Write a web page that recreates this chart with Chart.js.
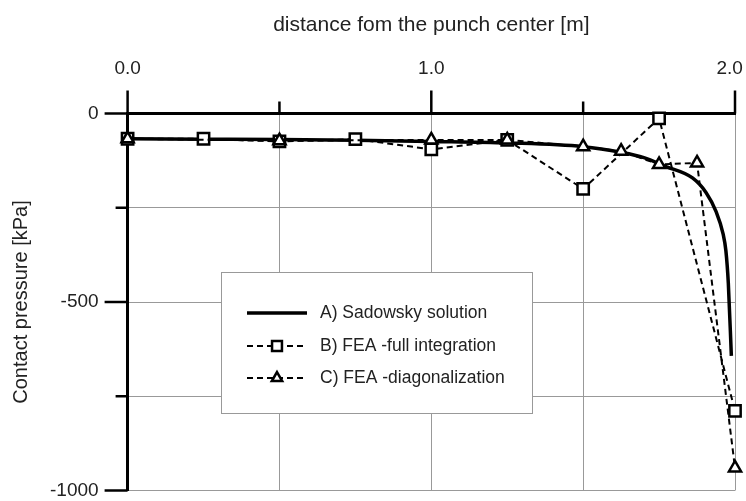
<!DOCTYPE html>
<html>
<head>
<meta charset="utf-8">
<script src="https://cdn.jsdelivr.net/npm/chart.js@4"></script>
<style>
  body { margin: 0; background: #fff; }
  #wrap { width: 746px; height: 501px; }
</style>
</head>
<body>
<div id="wrap"><canvas id="pressureChart"></canvas></div>
<script>
// A) Sadowsky solution (read off the curve)
const sadX = [0, 0.25, 0.5, 0.75, 1.0, 1.25, 1.5, 1.625, 1.7, 1.77, 1.86, 1.905, 1.937, 1.961, 1.97, 1.978, 1.988];
const sadY = [-67, -68, -69, -71, -74, -78, -88, -103, -117, -140, -171, -210, -259, -320, -364, -450, -643];

// B) FEA - full integration
const fullX = [0, 0.25, 0.5, 0.75, 1.0, 1.25, 1.5, 1.75, 2.0];
const fullY = [-67, -67, -74, -68, -95, -70, -200, -13, -789];

// C) FEA - diagonalization
const diagX = [0, 0.5, 1.0, 1.25, 1.5, 1.625, 1.75, 1.875, 2.0];
const diagY = [-67, -72, -70, -70, -88, -100, -135, -131, -940];

const legendLabels = ["A) Sadowsky solution", "B) FEA -full integration", "C) FEA -diagonalization"];
const xLabels = [0, 1, 2];        // labelled x ticks
const yLabels = [0, -500, -1000]; // labelled y ticks

const FONT = "'Liberation Sans', Arial, sans-serif";

function toPoints(xs, ys) {
  let pts = [];
  for (let i = 0; i < xs.length; i++) {
    pts.push({ x: xs[i], y: ys[i] });
  }
  return pts;
}

// tick marks: long ones on labelled values, short ones between
const tickMarks = {
  id: "tickMarks",
  afterDraw(chart) {
    const ctx = chart.ctx;
    const xs = chart.scales.x;
    const ys = chart.scales.y;
    const top = chart.chartArea.top;
    const left = chart.chartArea.left;
    ctx.save();
    ctx.strokeStyle = "#000";
    ctx.lineWidth = 2.5;
    ctx.lineCap = "butt";
    xs.ticks.forEach(t => {
      const px = xs.getPixelForValue(t.value);
      const len = xLabels.includes(t.value) ? 23 : 12;
      ctx.beginPath();
      ctx.moveTo(px, top);
      ctx.lineTo(px, top - len);
      ctx.stroke();
    });
    ys.ticks.forEach(t => {
      const py = ys.getPixelForValue(t.value);
      const len = yLabels.includes(t.value) ? 23 : 12;
      ctx.beginPath();
      ctx.moveTo(left, py);
      ctx.lineTo(left - len, py);
      ctx.stroke();
    });
    ctx.restore();
  }
};

// legend box inside the plot
const boxLegend = {
  id: "boxLegend",
  beforeDatasetsDraw(chart) {
    const ctx = chart.ctx;
    const bx = 221, by = 272, bw = 311, bh = 141;
    ctx.save();
    ctx.fillStyle = "#fff";
    ctx.fillRect(bx, by, bw, bh);
    ctx.strokeStyle = "#999";
    ctx.lineWidth = 1;
    ctx.strokeRect(bx + 0.5, by + 0.5, bw, bh);

    const rows = [313, 346, 378];
    chart.data.datasets.forEach((ds, i) => {
      const y = rows[i];
      ctx.strokeStyle = "#000";
      ctx.lineWidth = ds.borderWidth;
      ctx.setLineDash(ds.borderDash || []);
      ctx.beginPath();
      ctx.moveTo(247, y);
      ctx.lineTo(307, y);
      ctx.stroke();
      ctx.setLineDash([]);
      if (ds.pointStyle) {
        ctx.fillStyle = "#fff";
        ctx.lineWidth = ds.pointBorderWidth;
        ctx.strokeStyle = "#000";
        Chart.helpers.drawPoint(ctx, {
          pointStyle: ds.pointStyle,
          radius: ds.pointRadius - 1,
          borderWidth: ds.pointBorderWidth,
          rotation: 0
        }, 277, y);
      }
      ctx.fillStyle = "#222";
      ctx.font = "17.5px " + FONT;
      ctx.textAlign = "left";
      ctx.textBaseline = "middle";
      ctx.fillText(legendLabels[i], 320, y);
    });
    ctx.restore();
  }
};

// labels may hang over the canvas edge like in the original
function noOverhang(scale) {
  scale.paddingLeft = 0;
  scale.paddingRight = 0;
  scale.paddingTop = 0;
  scale.paddingBottom = 0;
}

let myChart = document.getElementById("pressureChart").getContext("2d");
let chart = new Chart(myChart, {
  type: "line",
  data: {
    datasets: [
      {
        label: legendLabels[0],
        data: toPoints(sadX, sadY),
        borderColor: "#000",
        borderWidth: 3.5,
        pointRadius: 0,
        cubicInterpolationMode: "monotone",
        clip: false,
        order: 3,
      },
      {
        label: legendLabels[1],
        data: toPoints(fullX, fullY),
        borderColor: "#000",
        borderWidth: 2,
        borderDash: [6, 4],
        pointStyle: "rect",
        pointRadius: 8,
        pointBorderWidth: 2.5,
        pointBackgroundColor: "#fff",
        pointBorderColor: "#000",
        clip: false,
        order: 2,
      },
      {
        label: legendLabels[2],
        data: toPoints(diagX, diagY),
        borderColor: "#000",
        borderWidth: 2,
        borderDash: [6, 4],
        pointStyle: "triangle",
        pointRadius: 7,
        pointBorderWidth: 2.5,
        pointBackgroundColor: "#fff",
        pointBorderColor: "#000",
        clip: false,
        order: 1,
      },
    ],
  },
  options: {
    responsive: true,
    maintainAspectRatio: false,
    animation: false,
    layout: { padding: { top: 0, right: 11, bottom: 8, left: 0 } },
    plugins: {
      legend: { display: false },
      tooltip: { enabled: false },
    },
    scales: {
      x: {
        type: "linear",
        position: "top",
        min: 0,
        max: 2,
        afterFit: noOverhang,
        border: { display: true, color: "#000", width: 3 },
        grid: { color: "#999", lineWidth: 1, drawTicks: true, tickLength: 23, tickColor: "rgba(0,0,0,0)" },
        ticks: {
          stepSize: 0.5,
          autoSkip: false,
          maxRotation: 0,
          padding: 12,
          color: "#222",
          font: { family: FONT, size: 19, lineHeight: 1 },
          callback: v => {
            if (!xLabels.includes(v)) return "";
            return v === 2 ? v.toFixed(1) + "\u00a0\u00a0" : v.toFixed(1);
          },
        },
        title: {
          display: true,
          text: "distance fom the punch center [m]",
          color: "#222",
          font: { family: FONT, size: 21, lineHeight: 1.2 },
          padding: { top: 12.4, bottom: 9.9 },
        },
      },
      y: {
        type: "linear",
        position: "left",
        min: -1000,
        max: 0,
        afterFit: noOverhang,
        border: { display: true, color: "#000", width: 3 },
        grid: { color: "#999", lineWidth: 1, drawTicks: true, tickLength: 23, tickColor: "rgba(0,0,0,0)" },
        ticks: {
          stepSize: 250,
          autoSkip: false,
          padding: 6,
          color: "#222",
          font: { family: FONT, size: 19, lineHeight: 1 },
          callback: v => (yLabels.includes(v) ? String(v) : ""),
        },
        title: {
          display: true,
          text: "Contact pressure [kPa]",
          color: "#222",
          font: { family: FONT, size: 20, lineHeight: 1.2 },
          padding: { top: 9, bottom: 11 },
        },
      },
    },
  },
  plugins: [boxLegend, tickMarks],
});
</script>
</body>
</html>
